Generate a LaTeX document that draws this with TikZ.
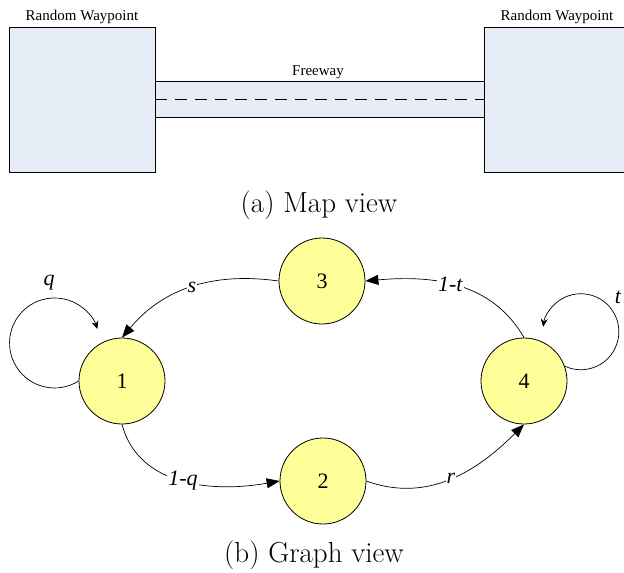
\documentclass[tikz,border=0pt]{standalone}
\usepackage{fontspec}
\newfontfamily\tms{Liberation Serif}
\usetikzlibrary{arrows.meta}
\definecolor{mapblue}{RGB}{230,237,247}
\definecolor{stateyellow}{RGB}{255,255,153}
\begin{document}
\begin{tikzpicture}[x=1pt,y=-1pt,
  region/.style={draw=black, fill=mapblue, line width=0.8pt},
  state/.style={circle, draw=black, fill=stateyellow, minimum size=86pt, inner sep=0pt,
    line width=0.8pt, font=\tms\fontsize{22}{24}\selectfont},
  trans/.style={line width=0.7pt, -{Triangle[length=13pt,width=10pt]}},
  selfloop/.style={line width=0.7pt, -{Stealth[length=8pt,width=7pt]}},
  prob/.style={fill=white, inner sep=1pt, font=\tms\itshape\fontsize{22}{24}\selectfont},
  maplabel/.style={font=\tms\fontsize{15}{17}\selectfont},
  caption/.style={font=\fontsize{29}{33}\selectfont}]
\useasboundingbox (0,0) rectangle (624,573);

% ---- map view ----
\fill[mapblue] (155,81) rectangle (484,117);
\draw[line width=0.8pt] (155,81) -- (484,81);
\draw[line width=0.8pt] (155,117) -- (484,117);
\draw[line width=0.8pt, dash pattern=on 12pt off 8pt] (155,99) -- (484,99);
\draw[region] (9,27) rectangle (155,172);
\draw[region] (484,27) rectangle (632,172);
\node[maplabel] (wpL) at (82,17) {Random Waypoint};
\node[maplabel] (wpR) at (557,17) {Random Waypoint};
\node[maplabel] (fw) at (318,72) {Freeway};
\node[caption] (capa) at (319,205) {(a) Map view};

% ---- graph view ----
\node[state] (n1) at (122,381) {1};
\node[state] (n2) at (323,481) {2};
\node[state] (n3) at (322,281) {3};
\node[state] (n4) at (524,381) {4};

\draw[trans] (n3.west) to[out=172,in=50] node[prob,pos=0.5] (ls) {s} (n1.north);
\draw[trans] (n4.north) to[out=120,in=5] node[prob,pos=0.54] (lt1) {1-t} (n3.east);
\draw[trans] (n1.south) to[out=-75,in=190] node[prob,pos=0.5] (lq1) {1-q} (n2.west);
\draw[trans] (n2.east) to[out=-20,in=225] node[prob,pos=0.5] (lr) {r} (n4.south);

\draw[selfloop] (n1.west) arc[start angle=57.7, end angle=342, radius=45];
\draw[selfloop] (n4.20) arc[start angle=115, end angle=-172.5, radius=38];
\node[prob] (lq) at (49,283) {q};
\node[prob] (lt) at (618,297) {t};

\node[caption] (capb) at (314,555) {(b) Graph view};
\end{tikzpicture}
\end{document}
